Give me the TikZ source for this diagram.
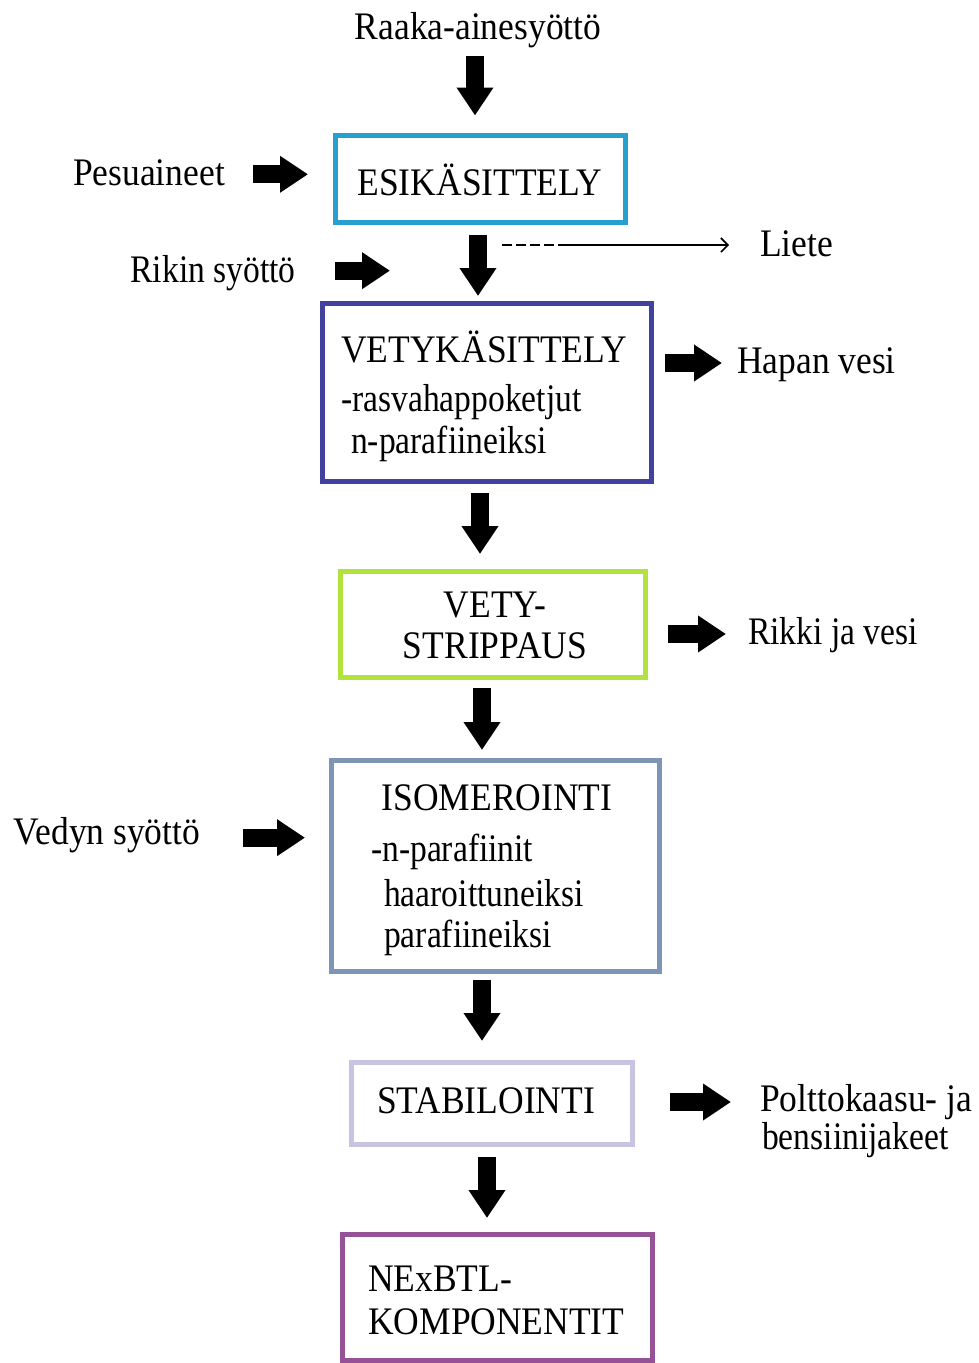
\documentclass[tikz,border=0pt]{standalone}
\usepackage{fontspec}
\setmainfont{Liberation Serif}[FakeStretch=0.91]
\newfontfamily\lowfont{Liberation Serif}[FakeStretch=0.86]
\usetikzlibrary{arrows.meta}
\definecolor{cEsi}{RGB}{40,160,205}
\definecolor{cVet}{RGB}{65,65,160}
\definecolor{cStr}{RGB}{178,226,60}
\definecolor{cIso}{RGB}{125,150,182}
\definecolor{cSta}{RGB}{200,195,225}
\definecolor{cNex}{RGB}{150,82,150}
\tikzset{
  txt/.style={inner sep=0pt, font=\fontsize{39}{46}\selectfont},
  ltxt/.style={inner sep=0pt, font=\lowfont\fontsize{39}{46}\selectfont},
  procbox/.style={draw=#1, line width=5pt, inner sep=0pt},
  blk/.style={line width=18pt, -{Triangle[length=28pt,width=35pt]}},
  thin/.style={line width=1.6pt},
}
\begin{document}
\begin{tikzpicture}[x=1pt,y=-1pt]
\useasboundingbox (0,0) rectangle (979,1363);
% boxes
\node[procbox=cEsi, minimum width=290pt, minimum height=87pt] (esi) at (480,178.5) {};
\node[procbox=cVet, minimum width=329pt, minimum height=178pt] (vet) at (486.5,392) {};
\node[procbox=cStr, minimum width=305pt, minimum height=106pt] (str) at (492.5,624) {};
\node[procbox=cIso, minimum width=328pt, minimum height=211pt] (iso) at (495,865.5) {};
\node[procbox=cSta, minimum width=281pt, minimum height=82pt] (sta) at (491.5,1103) {};
\node[procbox=cNex, minimum width=310pt, minimum height=126pt] (nex) at (497,1297) {};
% box texts
\node[txt, anchor=base] (esiT) at (480,195) {ESIKÄSITTELY};
\node[txt, anchor=base west] (vetT1) at (341,362) {VETYKÄSITTELY};
\node[ltxt, anchor=base west] (vetT2) at (341,411) {-rasvahappoketjut};
\node[ltxt, anchor=base west] (vetT3) at (351,453) {n-parafiineiksi};
\node[txt, anchor=base] (strT1) at (495,617) {VETY-};
\node[txt, anchor=base] (strT2) at (495,658) {STRIPPAUS};
\node[txt, anchor=base] (isoT1) at (497,810) {ISOMEROINTI};
\node[ltxt, anchor=base west] (isoT2) at (371,861) {-n-parafiinit};
\node[ltxt, anchor=base west] (isoT3) at (384,906) {haaroittuneiksi};
\node[ltxt, anchor=base west] (isoT4) at (384,947) {parafiineiksi};
\node[txt, anchor=base] (staT) at (486,1113) {STABILOINTI};
\node[txt, anchor=base west] (nexT1) at (368,1291) {NExBTL-};
\node[txt, anchor=base west] (nexT2) at (368,1334) {KOMPONENTIT};
% side labels
\node[txt, anchor=base] (raaka) at (478,39) {Raaka-ainesyöttö};
\node[txt, anchor=base] (pesu) at (149,185) {Pesuaineet};
\node[ltxt, anchor=base] (rikin) at (213,282) {Rikin syöttö};
\node[txt, anchor=base west] (liete) at (760,256) {Liete};
\node[txt, anchor=base west] (hapan) at (737,373) {Hapan vesi};
\node[ltxt, anchor=base west] (rikki) at (748,644) {Rikki ja vesi};
\node[txt, anchor=base] (vedyn) at (107,844) {Vedyn syöttö};
\node[txt, anchor=base west] (poltto1) at (760,1111) {Polttokaasu- ja};
\node[ltxt, anchor=base west] (poltto2) at (762,1149) {bensiinijakeet};
% vertical main flow arrows
\draw[blk, shorten <=8pt, shorten >=17pt] ([xshift=-3pt]raaka.south) -- ([xshift=-3pt]raaka.south |- esi.north);
\draw[blk, shorten <=10.5pt, shorten >=4.5pt] ([xshift=-2pt]esi.south) -- ([xshift=-2pt]esi.south |- vet.north);
\draw[blk, shorten <=9.5pt, shorten >=14.5pt] ([xshift=-6.5pt]vet.south) -- ([xshift=-6.5pt]vet.south |- str.north);
\draw[blk, shorten <=8.5pt, shorten >=7.5pt] ([xshift=-10.5pt]str.south) -- ([xshift=-10.5pt]str.south |- iso.north);
\draw[blk, shorten <=6.5pt, shorten >=18.5pt] ([xshift=-13pt]iso.south) -- ([xshift=-13pt]iso.south |- sta.north);
\draw[blk, shorten <=10.5pt, shorten >=13.5pt] ([xshift=-4.5pt]sta.south) -- ([xshift=-4.5pt]sta.south |- nex.north);
% horizontal arrows (canvas yshift: positive = up)
\draw[blk, shorten <=28pt, shorten >=24.5pt] ([yshift=-2pt]pesu.east) -- ([yshift=-2pt]pesu.east -| esi.west);
\draw[blk, shorten <=39pt, shorten >=96.5pt] ([yshift=2pt]rikin.east) -- ([yshift=2pt]rikin.east -| vet.north);
\draw[blk, shorten <=11.5pt, shorten >=15pt] ([yshift=29pt]vet.east) -- ([yshift=29pt]vet.east -| hapan.west);
\draw[blk, shorten <=20.5pt, shorten >=22pt] ([yshift=-10pt]str.east) -- ([yshift=-10pt]str.east -| rikki.west);
\draw[blk, shorten <=43pt, shorten >=23.5pt] ([yshift=-3pt]vedyn.east) -- ([yshift=-3pt]vedyn.east -| iso.west);
\draw[blk, shorten <=35.5pt, shorten >=29pt] ([yshift=1pt]sta.east) -- ([yshift=1pt]sta.east -| poltto1.west);
% dashed outlet to Liete
\coordinate (dst) at (502,245);
\coordinate (dmid) at (558,245);
\draw[thin, dash pattern=on 10pt off 4pt] (dst) -- (dmid);
\draw[thin, -{Straight Barb[length=7pt,width=14pt]}, shorten >=31pt] (dmid) -- (dmid -| liete.west);
\end{tikzpicture}
\end{document}
